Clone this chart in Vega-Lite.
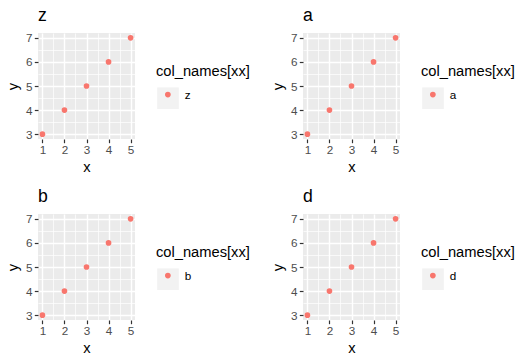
{
  "$schema": "https://vega.github.io/schema/vega-lite/v6.json",
  "autosize": {"type": "pad"},
  "padding": {"left": 5, "top": 7, "right": 0, "bottom": 0},
  "background": "white",
  "datasets": {
    "z": [{"x": 1, "y": 3, "name": "z", "key": "z"}, {"x": 2, "y": 4, "name": "z", "key": "z"}, {"x": 3, "y": 5, "name": "z", "key": "z"}, {"x": 4, "y": 6, "name": "z", "key": "z"}, {"x": 5, "y": 7, "name": "z", "key": "z"}],
    "a": [{"x": 1, "y": 3, "name": "a", "key": "a"}, {"x": 2, "y": 4, "name": "a", "key": "a"}, {"x": 3, "y": 5, "name": "a", "key": "a"}, {"x": 4, "y": 6, "name": "a", "key": "a"}, {"x": 5, "y": 7, "name": "a", "key": "a"}],
    "b": [{"x": 1, "y": 3, "name": "b", "key": "b"}, {"x": 2, "y": 4, "name": "b", "key": "b"}, {"x": 3, "y": 5, "name": "b", "key": "b"}, {"x": 4, "y": 6, "name": "b", "key": "b"}, {"x": 5, "y": 7, "name": "b", "key": "b"}],
    "d": [{"x": 1, "y": 3, "name": "d", "key": "d"}, {"x": 2, "y": 4, "name": "d", "key": "d"}, {"x": 3, "y": 5, "name": "d", "key": "d"}, {"x": 4, "y": 6, "name": "d", "key": "d"}, {"x": 5, "y": 7, "name": "d", "key": "d"}]
  },
  "columns": 2,
  "bounds": "flush",
  "spacing": {"row": 75, "column": 168},
  "resolve": {"scale": {"color": "independent", "shape": "independent"}, "legend": {"color": "independent", "shape": "independent"}},
  "concat": [
    {
      "title": {"text": "z"},
      "width": 97, "height": 106,
      "data": {"name": "z"},
      "encoding": {
        "x": {"field": "x", "type": "quantitative", "title": "x", "scale": {"domain": [0.8, 5.2], "nice": false, "zero": false},
          "axis": {"values": [1, 1.5, 2, 2.5, 3, 3.5, 4, 4.5, 5], "labelExpr": "datum.value % 1 === 0 ? format(datum.value, 'd') : ''", "tickOpacity": {"condition": {"test": "datum.value % 1 === 0", "value": 1}, "value": 0}, "gridWidth": {"condition": {"test": "datum.value % 1 === 0", "value": 1.4}, "value": 0.7}, "titleY": 32.3}},
        "y": {"field": "y", "type": "quantitative", "title": "y", "scale": {"domain": [2.8, 7.2], "nice": false, "zero": false},
          "axis": {"values": [3, 3.5, 4, 4.5, 5, 5.5, 6, 6.5, 7], "labelExpr": "datum.value % 1 === 0 ? format(datum.value, 'd') : ''", "tickOpacity": {"condition": {"test": "datum.value % 1 === 0", "value": 1}, "value": 0}, "gridWidth": {"condition": {"test": "datum.value % 1 === 0", "value": 1.4}, "value": 0.7}, "titleX": -21}}
      },
      "layer": [
        {"mark": {"type": "point", "filled": true, "opacity": 0, "size": 467, "color": "#F2F2F2"},
          "encoding": {"shape": {"field": "key", "type": "nominal", "scale": {"range": ["square"]},
            "legend": {"title": null, "orient": "none", "legendX": 118, "legendY": 53.2, "zindex": 0, "labelExpr": "''", "symbolOffset": 0, "symbolSize": 467, "symbolType": "square", "encode": {"symbols": {"update": {"opacity": {"value": 1}, "fill": {"value": "#F2F2F2"}, "stroke": {"value": "#F2F2F2"}, "size": {"value": 467}}}}}}}},
        {"mark": {"type": "circle", "size": 32, "opacity": 1},
          "encoding": {"color": {"field": "name", "type": "nominal", "scale": {"range": ["#F8766D"]},
            "legend": {"title": "col_names[xx]", "orient": "none", "legendX": 118, "legendY": 31, "zindex": 1, "symbolOffset": 6, "symbolSize": 32, "labelOffset": 11}}}}
      ]
    },
    {
      "title": {"text": "a"},
      "width": 97, "height": 106,
      "data": {"name": "a"},
      "encoding": {
        "x": {"field": "x", "type": "quantitative", "title": "x", "scale": {"domain": [0.8, 5.2], "nice": false, "zero": false},
          "axis": {"values": [1, 1.5, 2, 2.5, 3, 3.5, 4, 4.5, 5], "labelExpr": "datum.value % 1 === 0 ? format(datum.value, 'd') : ''", "tickOpacity": {"condition": {"test": "datum.value % 1 === 0", "value": 1}, "value": 0}, "gridWidth": {"condition": {"test": "datum.value % 1 === 0", "value": 1.4}, "value": 0.7}, "titleY": 32.3}},
        "y": {"field": "y", "type": "quantitative", "title": "y", "scale": {"domain": [2.8, 7.2], "nice": false, "zero": false},
          "axis": {"values": [3, 3.5, 4, 4.5, 5, 5.5, 6, 6.5, 7], "labelExpr": "datum.value % 1 === 0 ? format(datum.value, 'd') : ''", "tickOpacity": {"condition": {"test": "datum.value % 1 === 0", "value": 1}, "value": 0}, "gridWidth": {"condition": {"test": "datum.value % 1 === 0", "value": 1.4}, "value": 0.7}, "titleX": -21}}
      },
      "layer": [
        {"mark": {"type": "point", "filled": true, "opacity": 0, "size": 467, "color": "#F2F2F2"},
          "encoding": {"shape": {"field": "key", "type": "nominal", "scale": {"range": ["square"]},
            "legend": {"title": null, "orient": "none", "legendX": 118, "legendY": 53.2, "zindex": 0, "labelExpr": "''", "symbolOffset": 0, "symbolSize": 467, "symbolType": "square", "encode": {"symbols": {"update": {"opacity": {"value": 1}, "fill": {"value": "#F2F2F2"}, "stroke": {"value": "#F2F2F2"}, "size": {"value": 467}}}}}}}},
        {"mark": {"type": "circle", "size": 32, "opacity": 1},
          "encoding": {"color": {"field": "name", "type": "nominal", "scale": {"range": ["#F8766D"]},
            "legend": {"title": "col_names[xx]", "orient": "none", "legendX": 118, "legendY": 31, "zindex": 1, "symbolOffset": 6, "symbolSize": 32, "labelOffset": 11}}}}
      ]
    },
    {
      "title": {"text": "b"},
      "width": 97, "height": 106,
      "data": {"name": "b"},
      "encoding": {
        "x": {"field": "x", "type": "quantitative", "title": "x", "scale": {"domain": [0.8, 5.2], "nice": false, "zero": false},
          "axis": {"values": [1, 1.5, 2, 2.5, 3, 3.5, 4, 4.5, 5], "labelExpr": "datum.value % 1 === 0 ? format(datum.value, 'd') : ''", "tickOpacity": {"condition": {"test": "datum.value % 1 === 0", "value": 1}, "value": 0}, "gridWidth": {"condition": {"test": "datum.value % 1 === 0", "value": 1.4}, "value": 0.7}, "titleY": 32.3}},
        "y": {"field": "y", "type": "quantitative", "title": "y", "scale": {"domain": [2.8, 7.2], "nice": false, "zero": false},
          "axis": {"values": [3, 3.5, 4, 4.5, 5, 5.5, 6, 6.5, 7], "labelExpr": "datum.value % 1 === 0 ? format(datum.value, 'd') : ''", "tickOpacity": {"condition": {"test": "datum.value % 1 === 0", "value": 1}, "value": 0}, "gridWidth": {"condition": {"test": "datum.value % 1 === 0", "value": 1.4}, "value": 0.7}, "titleX": -21}}
      },
      "layer": [
        {"mark": {"type": "point", "filled": true, "opacity": 0, "size": 467, "color": "#F2F2F2"},
          "encoding": {"shape": {"field": "key", "type": "nominal", "scale": {"range": ["square"]},
            "legend": {"title": null, "orient": "none", "legendX": 118, "legendY": 53.2, "zindex": 0, "labelExpr": "''", "symbolOffset": 0, "symbolSize": 467, "symbolType": "square", "encode": {"symbols": {"update": {"opacity": {"value": 1}, "fill": {"value": "#F2F2F2"}, "stroke": {"value": "#F2F2F2"}, "size": {"value": 467}}}}}}}},
        {"mark": {"type": "circle", "size": 32, "opacity": 1},
          "encoding": {"color": {"field": "name", "type": "nominal", "scale": {"range": ["#F8766D"]},
            "legend": {"title": "col_names[xx]", "orient": "none", "legendX": 118, "legendY": 31, "zindex": 1, "symbolOffset": 6, "symbolSize": 32, "labelOffset": 11}}}}
      ]
    },
    {
      "title": {"text": "d"},
      "width": 97, "height": 106,
      "data": {"name": "d"},
      "encoding": {
        "x": {"field": "x", "type": "quantitative", "title": "x", "scale": {"domain": [0.8, 5.2], "nice": false, "zero": false},
          "axis": {"values": [1, 1.5, 2, 2.5, 3, 3.5, 4, 4.5, 5], "labelExpr": "datum.value % 1 === 0 ? format(datum.value, 'd') : ''", "tickOpacity": {"condition": {"test": "datum.value % 1 === 0", "value": 1}, "value": 0}, "gridWidth": {"condition": {"test": "datum.value % 1 === 0", "value": 1.4}, "value": 0.7}, "titleY": 32.3}},
        "y": {"field": "y", "type": "quantitative", "title": "y", "scale": {"domain": [2.8, 7.2], "nice": false, "zero": false},
          "axis": {"values": [3, 3.5, 4, 4.5, 5, 5.5, 6, 6.5, 7], "labelExpr": "datum.value % 1 === 0 ? format(datum.value, 'd') : ''", "tickOpacity": {"condition": {"test": "datum.value % 1 === 0", "value": 1}, "value": 0}, "gridWidth": {"condition": {"test": "datum.value % 1 === 0", "value": 1.4}, "value": 0.7}, "titleX": -21}}
      },
      "layer": [
        {"mark": {"type": "point", "filled": true, "opacity": 0, "size": 467, "color": "#F2F2F2"},
          "encoding": {"shape": {"field": "key", "type": "nominal", "scale": {"range": ["square"]},
            "legend": {"title": null, "orient": "none", "legendX": 118, "legendY": 53.2, "zindex": 0, "labelExpr": "''", "symbolOffset": 0, "symbolSize": 467, "symbolType": "square", "encode": {"symbols": {"update": {"opacity": {"value": 1}, "fill": {"value": "#F2F2F2"}, "stroke": {"value": "#F2F2F2"}, "size": {"value": 467}}}}}}}},
        {"mark": {"type": "circle", "size": 32, "opacity": 1},
          "encoding": {"color": {"field": "name", "type": "nominal", "scale": {"range": ["#F8766D"]},
            "legend": {"title": "col_names[xx]", "orient": "none", "legendX": 118, "legendY": 31, "zindex": 1, "symbolOffset": 6, "symbolSize": 32, "labelOffset": 11}}}}
      ]
    }
  ],
  "config": {
    "font": "Liberation Sans",
    "view": {"fill": "#EBEBEB", "stroke": null},
    "title": {"anchor": "start", "frame": "group", "fontSize": 17.6, "fontWeight": "normal", "color": "black", "baseline": "alphabetic", "offset": 2, "font": "Liberation Sans"},
    "axis": {"domain": false, "grid": true, "gridColor": "white", "labelFont": "Liberation Sans", "labelFontSize": 11.7, "labelColor": "#4D4D4D", "tickColor": "#333333", "tickSize": 3.7, "tickWidth": 1.2, "labelPadding": 2.2, "titleFont": "Liberation Sans", "titleFontSize": 14.7, "titleFontWeight": "normal", "titleColor": "black", "titleBaseline": "alphabetic", "labelFlush": false, "labelOverlap": false},
    "axisX": {"titleAnchor": "middle"},
    "axisY": {"titleAnchor": "middle", "labelBaseline": "middle"},
    "legend": {"padding": 0, "titleFont": "Liberation Sans", "titleFontSize": 14.7, "titleFontWeight": "normal", "titleColor": "black", "labelFont": "Liberation Sans", "labelFontSize": 11.7, "labelColor": "black", "titlePadding": 10, "titleBaseline": "top"}
  }
}
